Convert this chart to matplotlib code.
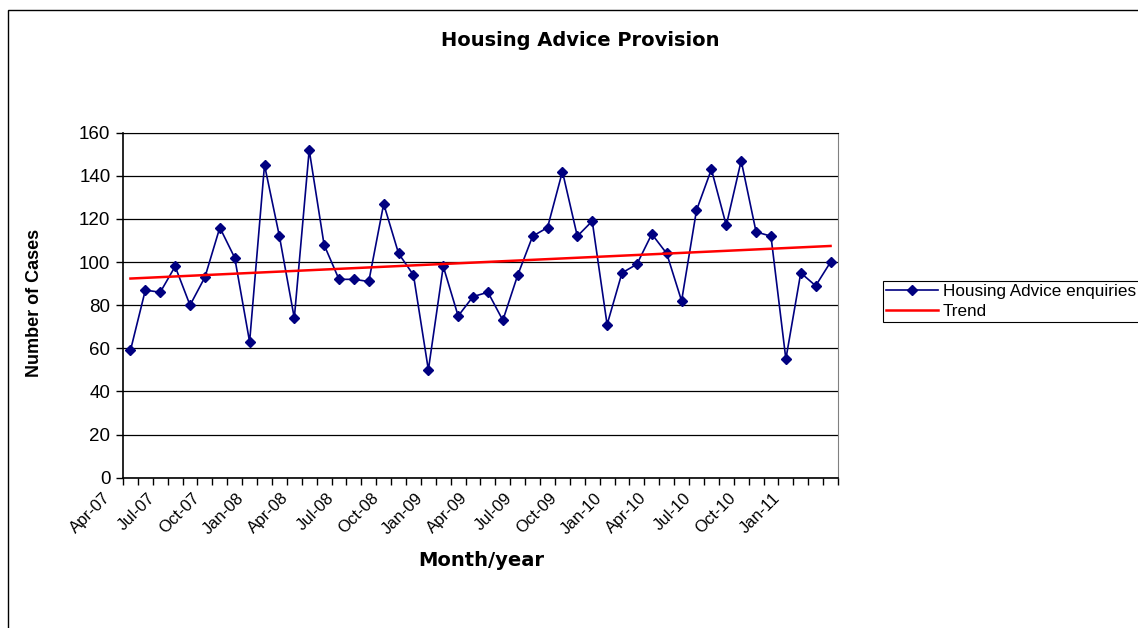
import numpy as np
import matplotlib
matplotlib.use('Agg')
import matplotlib.pyplot as plt
import matplotlib.transforms as mtransforms
from matplotlib.patches import Rectangle

# monthly enquiries, Apr-07 .. Mar-11
months = ['Apr-07', 'May-07', 'Jun-07', 'Jul-07', 'Aug-07', 'Sep-07', 'Oct-07', 'Nov-07', 'Dec-07',
          'Jan-08', 'Feb-08', 'Mar-08', 'Apr-08', 'May-08', 'Jun-08', 'Jul-08', 'Aug-08', 'Sep-08',
          'Oct-08', 'Nov-08', 'Dec-08', 'Jan-09', 'Feb-09', 'Mar-09', 'Apr-09', 'May-09', 'Jun-09',
          'Jul-09', 'Aug-09', 'Sep-09', 'Oct-09', 'Nov-09', 'Dec-09', 'Jan-10', 'Feb-10', 'Mar-10',
          'Apr-10', 'May-10', 'Jun-10', 'Jul-10', 'Aug-10', 'Sep-10', 'Oct-10', 'Nov-10', 'Dec-10',
          'Jan-11', 'Feb-11', 'Mar-11']
enquiries = [59, 87, 86, 98, 80, 93, 116, 102, 63, 145, 112, 74, 152, 108, 92, 92, 91, 127,
             104, 94, 50, 98, 75, 84, 86, 73, 94, 112, 116, 142, 112, 119, 71, 95, 99, 113,
             104, 82, 124, 143, 117, 147, 114, 112, 55, 95, 89, 100]

x = np.arange(len(months))
# linear trend line like Excel
slope, icept = np.polyfit(x, enquiries, 1)
trend = slope * x + icept

fig = plt.figure(figsize=(11.38, 6.28), dpi=100)
ax = fig.add_axes([123/1138, 1 - 477.7/628, 715/1138, 345/628])

ax.plot(x, enquiries, color='#000080', lw=1.2, marker='D', ms=5,
        label='Housing Advice enquiries', zorder=3)
ax.plot(x, trend, color='#FF0000', lw=1.8, label='Trend', zorder=4)

ax.set_xlim(-0.5, len(months) - 0.5)
ax.set_ylim(0, 160)
ax.set_yticks(range(0, 161, 20))
ax.yaxis.grid(True, color='black', lw=0.9)
ax.set_axisbelow(True)
ax.tick_params(axis='y', labelsize=13.5, length=5, direction='out', width=1, pad=4)
for lab in ax.get_yticklabels():
    lab.set_family('Liberation Sans')

# ticks between categories, labels every 3 months
ax.set_xticks(np.arange(-0.5, len(months), 1), minor=True)
ax.set_xticks(x[::3])
ax.set_xticklabels(months[::3], rotation=45, ha='right', rotation_mode='anchor',
                   fontsize=12, family='Liberation Sans')
ax.tick_params(axis='x', which='major', length=0, pad=9)
ax.tick_params(axis='x', which='minor', length=5, width=1)
offset = mtransforms.ScaledTranslation(-0.28, 0, fig.dpi_scale_trans)
for lab in ax.get_xticklabels():
    lab.set_transform(lab.get_transform() + offset)

for s in ['left', 'bottom']:
    ax.spines[s].set_linewidth(1.2)
    ax.spines[s].set_color('black')
ax.spines['right'].set_color('#808080')
ax.spines['top'].set_color('black')

fig.text(580/1138, 1 - 41/628, 'Housing Advice Provision', ha='center', va='center',
         fontsize=14, fontweight='bold', family='DejaVu Sans')
fig.text(481/1138, 1 - 560/628, 'Month/year', ha='center', va='center',
         fontsize=14, fontweight='bold', family='DejaVu Sans')
fig.text(35/1138, 1 - 303/628, 'Number of Cases', ha='center', va='center', rotation=90,
         fontsize=13, fontweight='bold', family='Liberation Sans')

leg = fig.legend(loc='upper left', bbox_to_anchor=(883/1138, 1 - 281/628),
                 prop={'family': 'Liberation Sans', 'size': 12.3}, fancybox=False,
                 edgecolor='black', framealpha=1, handlelength=3, borderpad=0.2,
                 labelspacing=0.25, handletextpad=0.3, borderaxespad=0)
leg.get_frame().set_linewidth(0.8)

# chart area border
fig.patches.append(Rectangle((8/1138, -0.05), 1.1, 1 - 10/628 + 0.05, transform=fig.transFigure,
                             fill=False, edgecolor='black', lw=1))

fig.savefig('out.png', dpi=100)
